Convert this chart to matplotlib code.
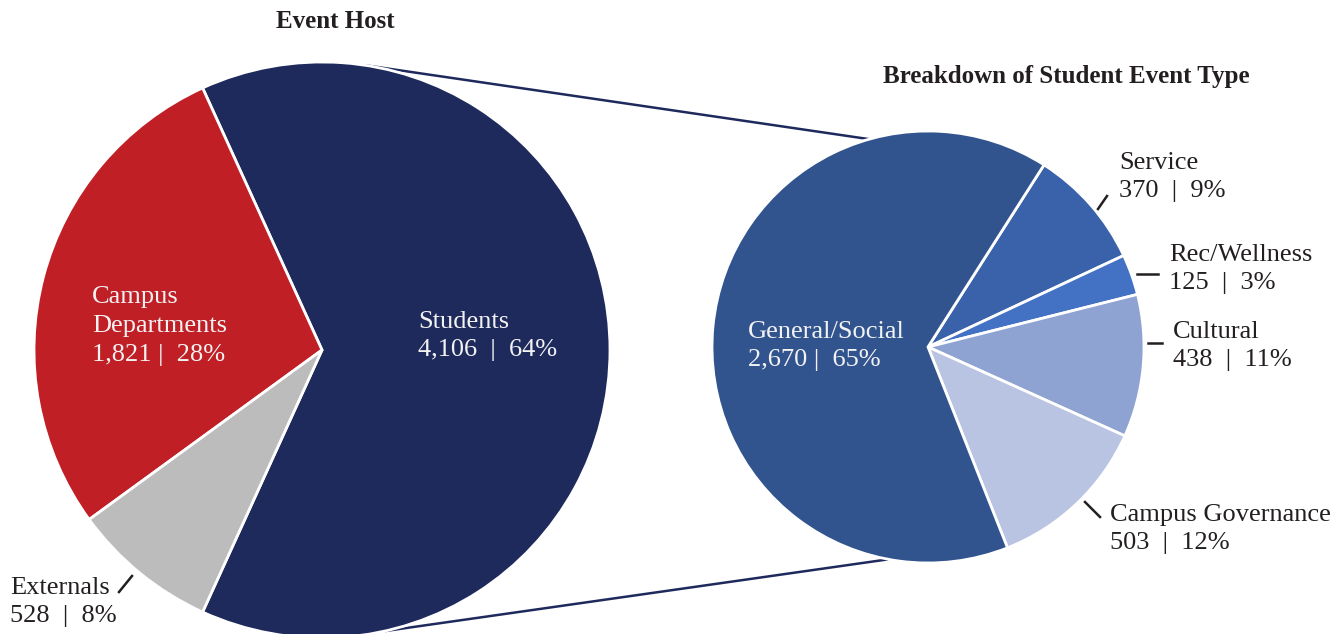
import numpy as np
import matplotlib
matplotlib.use('Agg')
import matplotlib.pyplot as plt

# event host split
host_labels = ['Students', 'Campus\nDepartments', 'Externals']
host_counts = [4106, 1821, 528]
host_pcts = [64, 28, 8]
host_colors = ['#1e295c', '#c01f26', '#bcbcbc']

# breakdown of the student-hosted events
type_labels = ['Service', 'Rec/Wellness', 'Cultural', 'Campus Governance', 'General/Social']
type_counts = [370, 125, 438, 503, 2670]
type_pcts = [9, 3, 11, 12, 65]
type_colors = ['#3a62aa', '#4372c4', '#8fa3d3', '#b9c3e2', '#31548f']

plt.rcParams['font.family'] = ['Liberation Serif', 'DejaVu Serif']
DARK = '#231f20'
LIGHT = '#f2f2f2'

fig = plt.figure(figsize=(13.44, 6.34), dpi=100)
ax = fig.add_axes([0, 0, 1, 1])

# pies drawn in pixel-sized data units, y pointing up
left_c, left_r = (322, 284), 288
right_c, right_r = (928, 287), 216

host_total = sum(host_counts)
host_start = -180 * host_counts[0] / host_total
w_left, _ = ax.pie(host_counts, colors=host_colors, center=left_c, radius=left_r,
                   startangle=host_start, counterclock=True,
                   wedgeprops=dict(edgecolor='white', linewidth=2))

w_right, _ = ax.pie(type_counts, colors=type_colors, center=right_c, radius=right_r,
                    startangle=57.5, counterclock=False,
                    wedgeprops=dict(edgecolor='white', linewidth=2))


def rim(c, r, ang):
    a = np.deg2rad(ang)
    return c[0] + r * np.cos(a), c[1] + r * np.sin(a)


# zoom lines joining the Students slice to the breakdown pie
for la, ra in [(81.5, 105.8), (-77.4, -100.6)]:
    x0, y0 = rim(left_c, left_r, la)
    x1, y1 = rim(right_c, right_r, ra)
    ax.plot([x0, x1], [y0, y1], color='#1e295c', lw=1.8, solid_capstyle='butt', zorder=0)


def fmt(label, n, p):
    sep = '  |  ' if n < 1000 else ' |  '
    return f'{label}\n{n:,}{sep}{p}%'


fs = 19
ls = 1.4
# labels inside the slices
ax.text(418, 634 - 336, fmt(host_labels[0], host_counts[0], host_pcts[0]).replace(' |', '  |'),
        color=LIGHT, fontsize=fs, va='center', ha='left', linespacing=ls)
ax.text(92, 634 - 326, fmt(host_labels[1], host_counts[1], host_pcts[1]),
        color=LIGHT, fontsize=fs, va='center', ha='left', linespacing=ls)
ax.text(748, 634 - 346, fmt(type_labels[4], type_counts[4], type_pcts[4]),
        color=LIGHT, fontsize=fs, va='center', ha='left', linespacing=ls)

# outside labels with short leader ticks: (text xy, tick from, tick to)
outside = [
    (fmt(host_labels[2], host_counts[2], host_pcts[2]), (10, 602), (119, 592), (132, 576)),
    (fmt(type_labels[0], type_counts[0], type_pcts[0]), (1119, 177), (1098, 209), (1107, 196)),
    (fmt(type_labels[1], type_counts[1], type_pcts[1]), (1169, 269), (1137, 274), (1158, 274)),
    (fmt(type_labels[2], type_counts[2], type_pcts[2]), (1173, 346), (1148, 343), (1162, 343)),
    (fmt(type_labels[3], type_counts[3], type_pcts[3]), (1110, 529), (1085, 502), (1100, 517)),
]
for txt, (tx, ty), (ax0, ay0), (ax1, ay1) in outside:
    ax.text(tx, 634 - ty, txt, color=DARK, fontsize=fs, va='center', ha='left', linespacing=ls)
    ax.plot([ax0, ax1], [634 - ay0, 634 - ay1], color=DARK, lw=1.8)

ax.text(335, 634 - 22, 'Event Host', color=DARK, fontsize=18, fontweight='bold',
        ha='center', va='center')
ax.text(1066, 634 - 77, 'Breakdown of Student Event Type', color=DARK, fontsize=18,
        fontweight='bold', ha='center', va='center')

ax.set_xlim(0, 1344)
ax.set_ylim(0, 634)
ax.set_aspect('equal')
ax.axis('off')

fig.savefig('out.png', dpi=100)
